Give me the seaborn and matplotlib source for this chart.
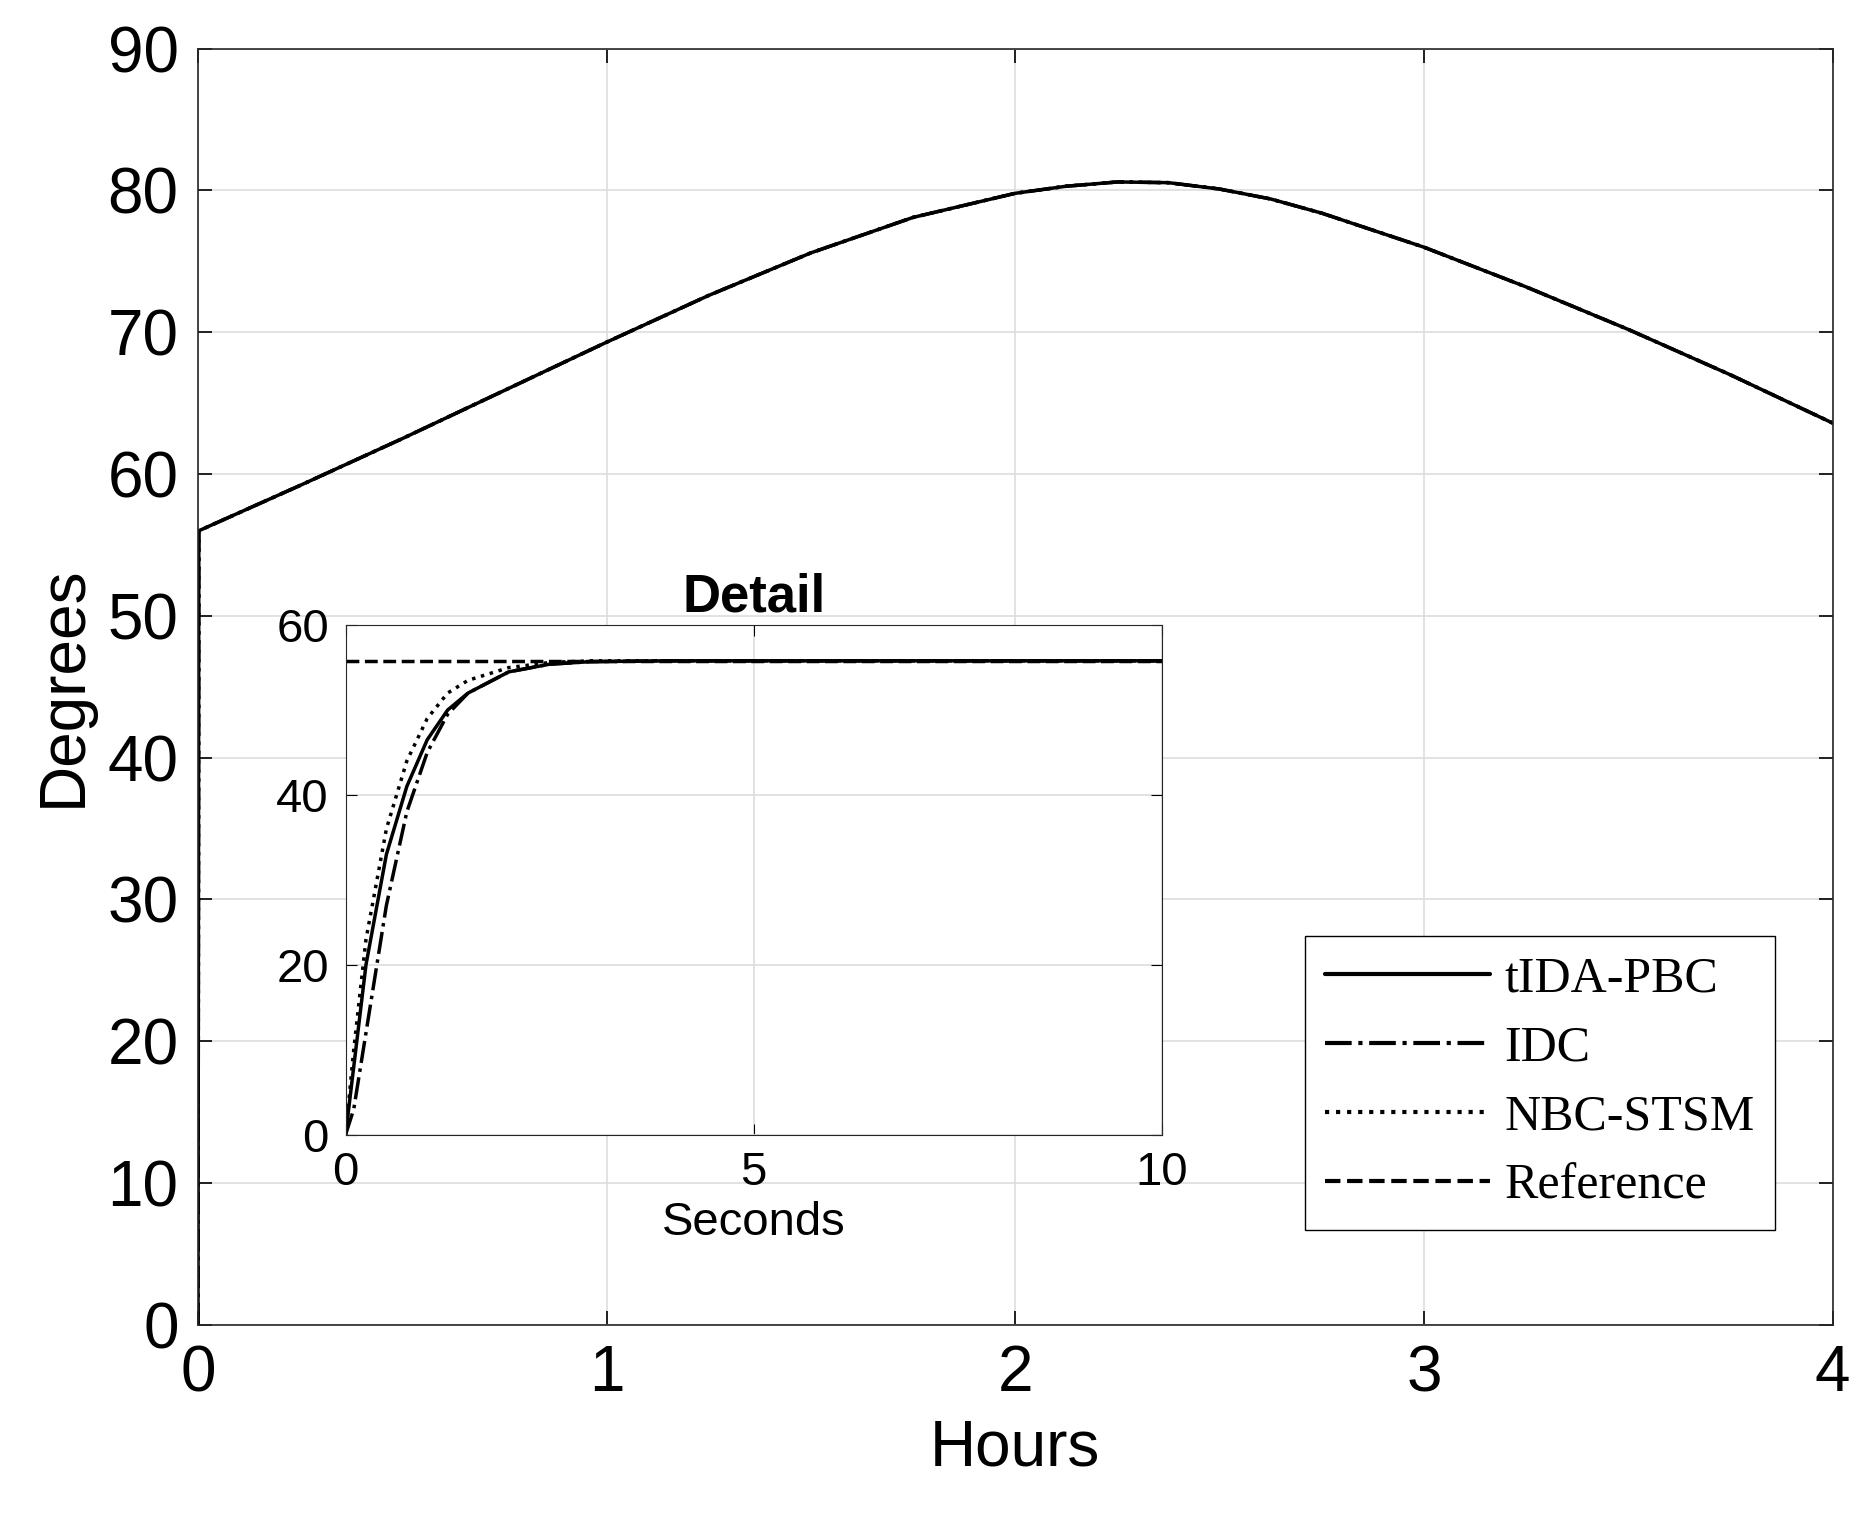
import numpy as np
import pandas as pd
import seaborn as sns
import matplotlib.pyplot as plt

# Main response over hours (all controllers overlap at this scale)
hours = [0, 0.002, 0.25, 0.5, 0.75, 1, 1.25, 1.5, 1.75, 2, 2.125, 2.25, 2.375, 2.5, 2.625,
         2.75, 3, 3.25, 3.5, 3.75, 4]
deg_main = [0, 56, 59.2, 62.5, 65.9, 69.3, 72.6, 75.6, 78.1, 79.8, 80.3, 80.6, 80.55, 80.1, 79.4,
            78.4, 76, 73.2, 70.2, 67, 63.6]

# Detail over first seconds
secs = [0, 0.1, 0.25, 0.5, 0.75, 1, 1.25, 1.5, 2, 2.5, 3, 4, 10]
tida = [0, 8, 20, 33, 41, 46.5, 50, 52, 54.5, 55.4, 55.7, 55.8, 55.8]
idc = [0, 3, 12, 27, 38, 45, 49.5, 52, 54.5, 55.4, 55.7, 55.8, 55.8]
nbc = [0, 10, 23, 36, 44, 49, 52, 53.5, 55, 55.6, 55.8, 55.8, 55.8]
ref_val = 55.8

sns.set_style("ticks")
plt.rcParams['font.family'] = ['Liberation Sans', 'DejaVu Sans']
plt.rcParams['text.color'] = 'black'
plt.rcParams['axes.labelcolor'] = 'black'
plt.rcParams['xtick.color'] = 'black'
plt.rcParams['ytick.color'] = 'black'

fig = plt.figure(figsize=(18.68, 15.21), dpi=100)
ax = fig.add_axes([0.106, 0.129, 0.875, 0.839])

main = pd.DataFrame({"h": hours, "d": deg_main})
for ls in ["-", "-.", ":"]:
    sns.lineplot(data=main, x="h", y="d", ax=ax, color="black", lw=2.5, linestyle=ls)
ax.set_xlim(0, 4)
ax.set_ylim(0, 90)
ax.set_xticks(range(5))
ax.set_yticks(range(0, 91, 10))
ax.grid(True, color="#dddddd", lw=1.2)
ax.tick_params(direction="in", labelsize=46, length=10, top=True, right=True, width=1.2, pad=14)
ax.set_xlabel("Hours", fontsize=46, labelpad=10)
ax.set_ylabel("Degrees", fontsize=46, labelpad=10)
for s in ax.spines.values():
    s.set_linewidth(1.2)

# Legend (serif text, like MATLAB latex interpreter)
h1, = ax.plot([], [], "k-", lw=3, label="tIDA-PBC")
h2, = ax.plot([], [], "k-.", lw=3, label="IDC")
h3, = ax.plot([], [], "k:", lw=3, label="NBC-STSM")
h4, = ax.plot([], [], "k--", lw=3, label="Reference")
ax.legend(handles=[h1, h2, h3, h4], loc="lower right", bbox_to_anchor=(0.98, 0.055),
          prop={"family": "Liberation Serif", "size": 36}, fancybox=False,
          edgecolor="black", framealpha=1, handlelength=3.3, handletextpad=0.3,
          borderpad=0.4, labelspacing=0.45)

# Inset
ins = fig.add_axes([0.185, 0.254, 0.437, 0.335])
det = pd.DataFrame({"s": secs, "tida": tida, "idc": idc, "nbc": nbc})
ins.plot([0, 10], [ref_val, ref_val], "k--", lw=2.5)
sns.lineplot(data=det, x="s", y="tida", ax=ins, color="black", lw=2.5, linestyle="-")
sns.lineplot(data=det, x="s", y="idc", ax=ins, color="black", lw=2.5, linestyle="-.")
sns.lineplot(data=det, x="s", y="nbc", ax=ins, color="black", lw=2.5, linestyle=":")
ins.set_xlim(0, 10)
ins.set_ylim(0, 60)
ins.set_xticks([0, 5, 10])
ins.set_yticks([0, 20, 40, 60])
ins.grid(True, color="#dddddd", lw=1.2)
ins.tick_params(direction="in", labelsize=34, length=8, top=True, right=True, pad=12)
ins.set_xlabel("Seconds", fontsize=34, labelpad=4)
ins.set_ylabel("")
ins.set_title("Detail", fontsize=38, fontweight="bold", pad=10)

fig.savefig("out.png", dpi=100)
